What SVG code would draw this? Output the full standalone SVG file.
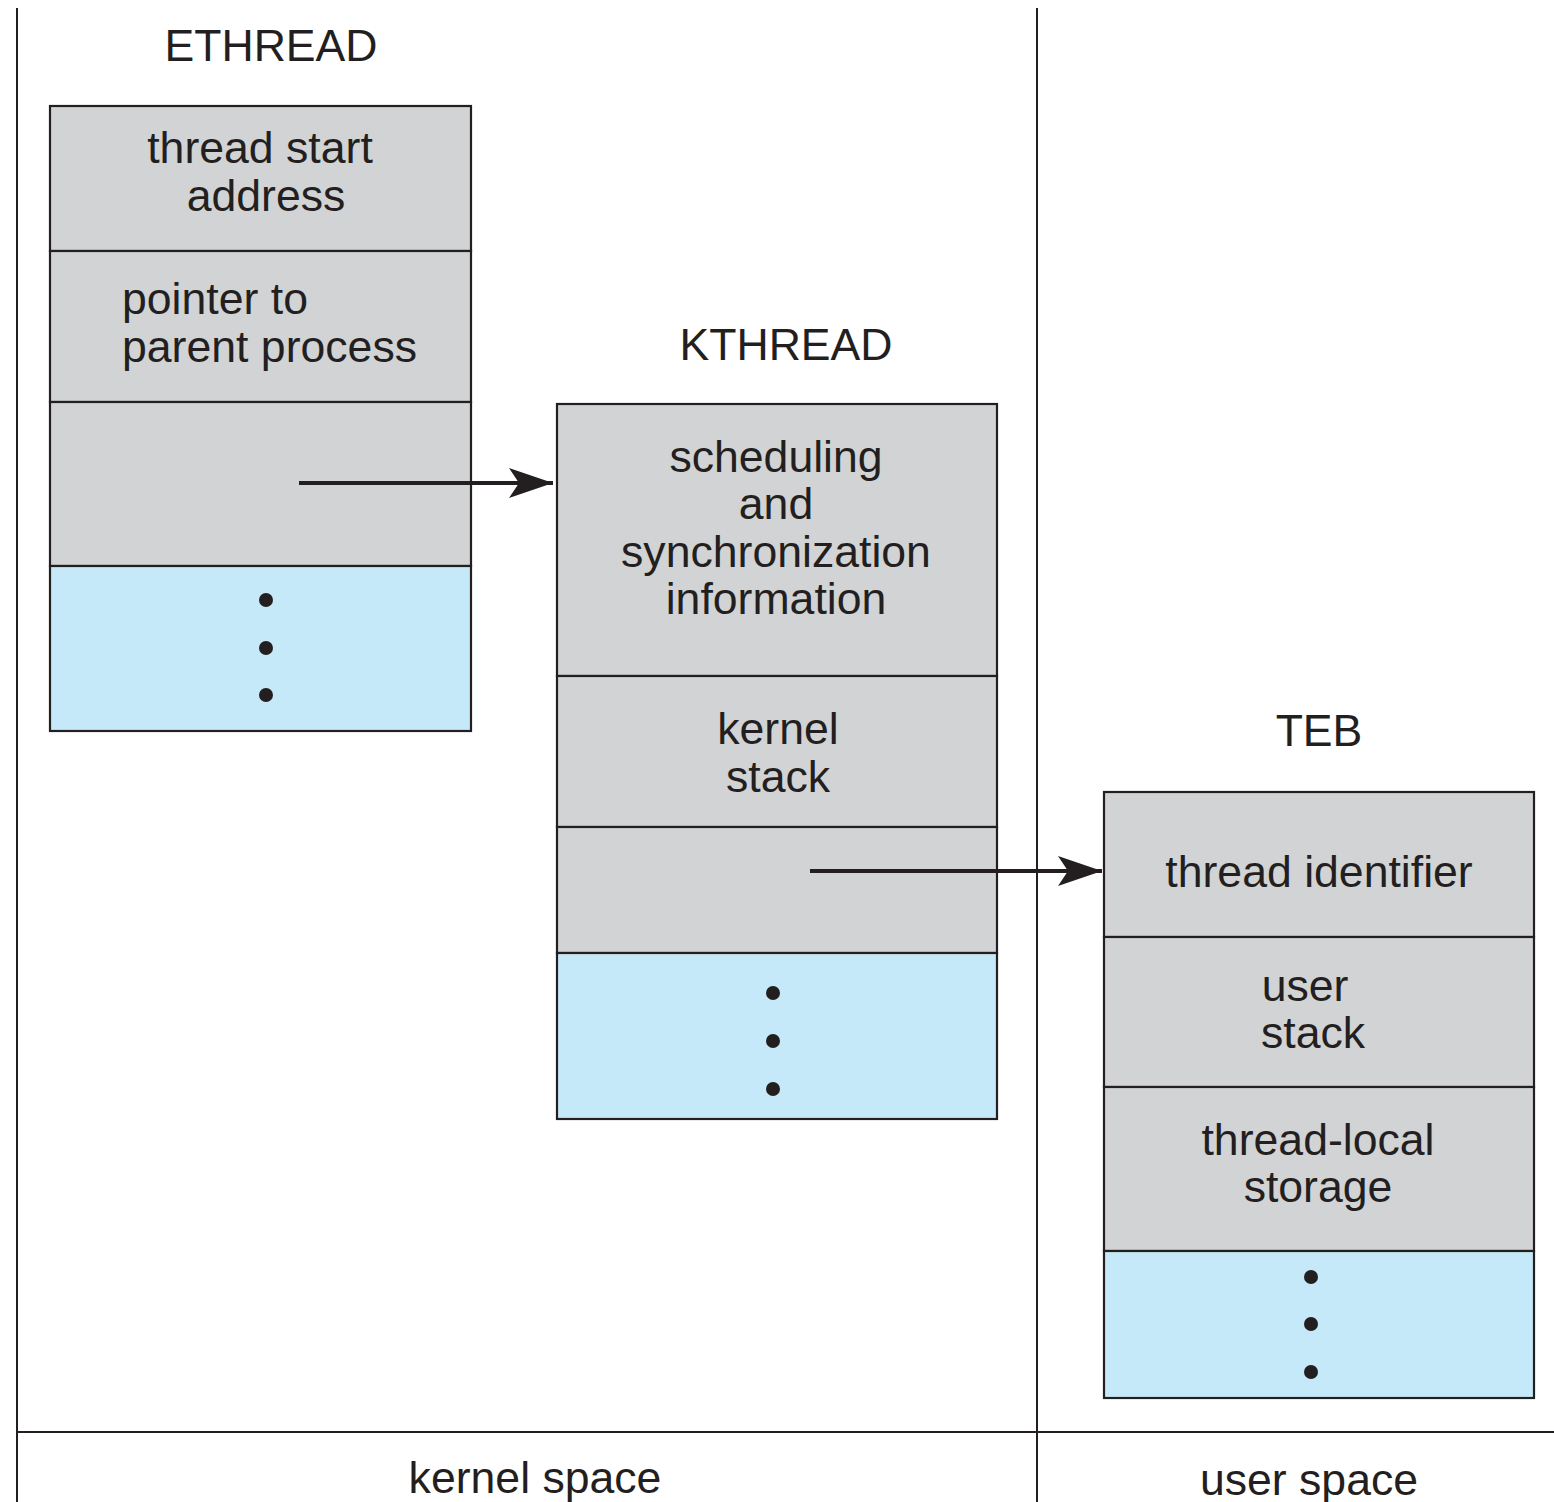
<svg xmlns="http://www.w3.org/2000/svg" width="1554" height="1502" viewBox="0 0 1554 1502">
<defs>
<style>
.g{fill:#d1d3d4;stroke:#231f20;stroke-width:2.2}
.b{fill:#c5e9f8;stroke:#231f20;stroke-width:2.2}
.ln{stroke:#231f20;stroke-width:2;fill:none}
.t{font-family:"Liberation Sans",Arial,sans-serif;font-size:44.6px;fill:#231f20;text-anchor:middle}
.tl{text-anchor:start}
.d{fill:#231f20}
.ar{stroke:#231f20;stroke-width:4;fill:none}
</style>
<marker id="ah" markerUnits="userSpaceOnUse" markerWidth="46" markerHeight="30" refX="44" refY="15" orient="auto">
<path d="M44,15 L0,0 L10,15 L0,30 Z" fill="#231f20"/>
</marker>
</defs>
<rect width="1554" height="1502" fill="#ffffff"/>
<g id="frame">
<line class="ln" x1="17" y1="8" x2="17" y2="1502"/>
<line class="ln" x1="1037" y1="8" x2="1037" y2="1502"/>
<line class="ln" x1="17" y1="1432" x2="1554" y2="1432"/>
<text class="t" x="535" y="1493">kernel space</text>
<text class="t" x="1309" y="1495">user space</text>
</g>
<g id="ethread">
<text class="t" x="271" y="61">ETHREAD</text>
<rect class="g" x="50" y="106" width="421" height="145"/>
<rect class="g" x="50" y="251" width="421" height="151"/>
<rect class="g" x="50" y="402" width="421" height="164"/>
<rect class="b" x="50" y="566" width="421" height="165"/>
<text class="t" x="260" y="163">thread start</text>
<text class="t" x="266" y="211">address</text>
<text class="t tl" x="122" y="314">pointer to</text>
<text class="t tl" x="122" y="362">parent process</text>
<circle class="d" cx="266" cy="600" r="7"/>
<circle class="d" cx="266" cy="648" r="7"/>
<circle class="d" cx="266" cy="695" r="7"/>
</g>
<g id="kthread">
<text class="t" x="786" y="360">KTHREAD</text>
<rect class="g" x="557" y="404" width="440" height="272"/>
<rect class="g" x="557" y="676" width="440" height="151"/>
<rect class="g" x="557" y="827" width="440" height="126"/>
<rect class="b" x="557" y="953" width="440" height="166"/>
<text class="t" x="776" y="472">scheduling</text>
<text class="t" x="776" y="519">and</text>
<text class="t" x="776" y="567">synchronization</text>
<text class="t" x="776" y="614">information</text>
<text class="t" x="778" y="744">kernel</text>
<text class="t" x="778" y="792">stack</text>
<circle class="d" cx="773" cy="993" r="7"/>
<circle class="d" cx="773" cy="1041" r="7"/>
<circle class="d" cx="773" cy="1089" r="7"/>
</g>
<g id="teb">
<text class="t" x="1319" y="746">TEB</text>
<rect class="g" x="1104" y="792" width="430" height="145"/>
<rect class="g" x="1104" y="937" width="430" height="150"/>
<rect class="g" x="1104" y="1087" width="430" height="164"/>
<rect class="b" x="1104" y="1251" width="430" height="147"/>
<text class="t" x="1319" y="887">thread identifier</text>
<text class="t" x="1305" y="1001">user</text>
<text class="t" x="1313" y="1048">stack</text>
<text class="t" x="1318" y="1155">thread-local</text>
<text class="t" x="1318" y="1202">storage</text>
<circle class="d" cx="1311" cy="1277" r="7"/>
<circle class="d" cx="1311" cy="1324" r="7"/>
<circle class="d" cx="1311" cy="1372" r="7"/>
</g>
<g id="connectors">
<line class="ar" x1="299" y1="483" x2="553" y2="483" marker-end="url(#ah)"/>
<line class="ar" x1="810" y1="871" x2="1102" y2="871" marker-end="url(#ah)"/>
</g>
</svg>
